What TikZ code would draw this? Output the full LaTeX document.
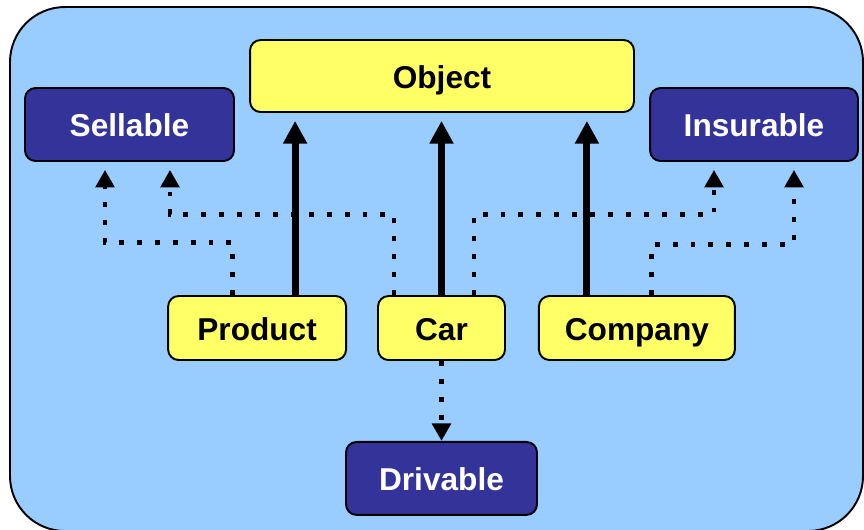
\documentclass[tikz,border=0pt]{standalone}
\usepackage{fontspec}
\setmainfont{Liberation Sans}
\usepackage{tikz}
\usetikzlibrary{arrows.meta,positioning}
\definecolor{sky}{HTML}{99CCFF}
\definecolor{lemon}{HTML}{FFFF66}
\definecolor{indigo}{HTML}{333399}

\begin{document}
\begin{tikzpicture}[
  x=0.02cm, y=-0.02cm,
  font=\fontsize{18}{20}\selectfont\bfseries,
  cls/.style={draw=black, line width=1.1pt, rounded corners=6pt, fill=lemon, align=center,
              inner sep=0pt, text height=1.4em, text depth=0pt, minimum height=1.28cm},
  intf/.style={draw=black, line width=1.1pt, rounded corners=6pt, fill=indigo, text=white,
               align=center, inner sep=0pt, text height=1.4em, text depth=0pt,
               minimum height=1.46cm},
  inherit/.style={-{Triangle[length=13pt, width=13pt]}, line width=4pt, shorten >=4.5pt},
  impl/.style={-{Triangle[length=10pt, width=10.5pt]}, line width=2.8pt,
               dash pattern=on 2.8pt off 7.4pt, shorten >=4.5pt}
]
\useasboundingbox (0,0) rectangle (864,529);
\draw[fill=sky, line width=1.1pt, rounded corners=1.1cm] (10,7) rectangle (863,531);

% Row 1 -- the base class and two interfaces
\node[cls, minimum width=7.68cm, minimum height=1.44cm] (obj) at (442,76) {Object};
\node[intf, minimum width=4.18cm] (sell) at (129.5,124.5) {Sellable};
\node[intf, minimum width=4.16cm] (ins) at (754,124.5) {Insurable};

% Row 2 -- the classes
\node[cls, minimum width=2.54cm] (car) at (441.5,328) {Car};
\node[cls, minimum width=3.56cm, left=6mm of car] (prod) {Product};
\node[cls, minimum width=3.92cm, right=6.4mm of car] (comp) {Company};

% Row 3 -- the last interface
\node[intf, minimum width=3.82cm, below=1.6cm of car] (driv) {Drivable};

\draw[inherit] ([xshift=7.6mm]prod.north) -- ([xshift=7.6mm]prod.north |- obj.south);
\draw[inherit] (car.north) -- (car.north |- obj.south);
\draw[inherit] ([xshift=-10mm]comp.north) -- ([xshift=-10mm]comp.north |- obj.south);

\draw[impl] ([xshift=-5mm]prod.north) -- ++(0,-53) -| ([xshift=-4.9mm]sell.south);
\draw[impl] ([xshift=-9.5mm]car.north) -- ++(0,-81) -| ([xshift=8.1mm]sell.south);
\draw[impl] ([xshift=6.5mm]car.north) -- ++(0,-81) -| ([xshift=-8mm]ins.south);
\draw[impl] ([xshift=3mm]comp.north) -- ++(0,-51) -| ([xshift=8mm]ins.south);
\draw[impl, shorten >=0pt] (car.south) -- (driv.north);

\end{tikzpicture}
\end{document}
